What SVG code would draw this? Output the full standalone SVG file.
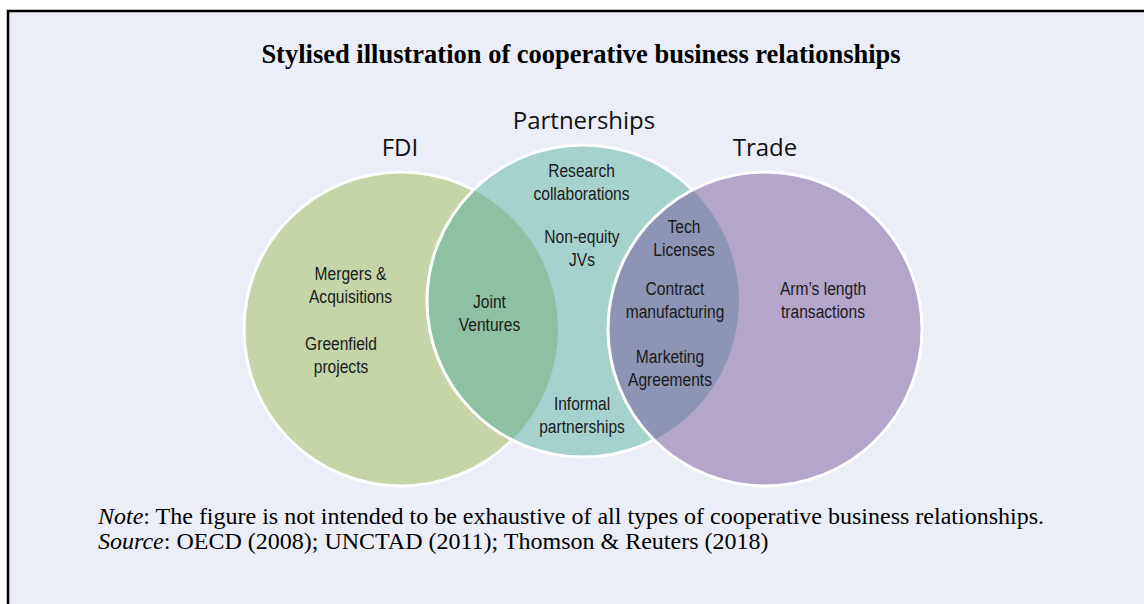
<svg xmlns="http://www.w3.org/2000/svg" width="1144" height="604" viewBox="0 0 1144 604">
<style>
.title{font-family:"Liberation Serif","Times New Roman",serif;font-weight:bold;font-size:26.5px;fill:#000}
.note{font-family:"Liberation Serif","Times New Roman",serif;font-size:24px;fill:#000}
.head{font-family:"Open Sans","Noto Sans",sans-serif;font-size:24px;fill:#111;text-anchor:middle}
.lbl{font-family:"Liberation Sans",Arial,sans-serif;font-size:19px;fill:#1a1a1a;text-anchor:middle}
.edge{fill:none;stroke:#fff;stroke-width:3}
</style>
<defs>
<clipPath id="clipP"><circle cx="583" cy="301" r="156"/></clipPath>
<clipPath id="clipT"><circle cx="765" cy="329" r="157"/></clipPath>
</defs>
<rect x="0" y="0" width="1144" height="604" fill="#fff"/>
<rect x="8" y="11" width="1136" height="593" fill="#ECEEF7"/>
<path d="M8,604 V11 H1144" fill="none" stroke="#000" stroke-width="2.5"/>
<text class="title" x="581" y="63" text-anchor="middle">Stylised illustration of cooperative business relationships</text>
<g id="node-fdi">
<circle cx="401" cy="329" r="157" fill="#C5D5A8" stroke="#fff" stroke-width="3"/>
<text class="head" x="400" y="156">FDI</text>
</g>
<g id="node-partnerships">
<circle cx="583" cy="301" r="156" fill="#A6D2CE"/>
<circle cx="401" cy="329" r="157" fill="#8EC1A3" clip-path="url(#clipP)"/>
<circle class="edge" cx="583" cy="301" r="156"/>
<text class="head" x="584" y="129">Partnerships</text>
</g>
<g id="node-trade">
<circle cx="765" cy="329" r="157" fill="#B4A5CB"/>
<circle cx="583" cy="301" r="156" fill="#8E94B5" clip-path="url(#clipT)"/>
<circle class="edge" cx="765" cy="329" r="157"/>
<text class="head" x="765" y="156">Trade</text>
</g>
<g id="labels-fdi">
<text class="lbl" transform="translate(350.5,280) scale(0.82,1)">Mergers &amp;</text>
<text class="lbl" transform="translate(350.5,303) scale(0.82,1)">Acquisitions</text>
<text class="lbl" transform="translate(341,350) scale(0.82,1)">Greenfield</text>
<text class="lbl" transform="translate(341,373) scale(0.82,1)">projects</text>
</g>
<g id="node-joint-ventures">
<text class="lbl" transform="translate(489.5,308) scale(0.82,1)">Joint</text>
<text class="lbl" transform="translate(489.5,331) scale(0.82,1)">Ventures</text>
</g>
<g id="labels-partnerships">
<text class="lbl" transform="translate(581.5,177) scale(0.82,1)">Research</text>
<text class="lbl" transform="translate(581.5,200) scale(0.82,1)">collaborations</text>
<text class="lbl" transform="translate(582,243) scale(0.82,1)">Non-equity</text>
<text class="lbl" transform="translate(582,266) scale(0.82,1)">JVs</text>
<text class="lbl" transform="translate(582,410) scale(0.82,1)">Informal</text>
<text class="lbl" transform="translate(582,433) scale(0.82,1)">partnerships</text>
</g>
<g id="node-partnership-trade">
<text class="lbl" transform="translate(684,233) scale(0.82,1)">Tech</text>
<text class="lbl" transform="translate(684,256) scale(0.82,1)">Licenses</text>
<text class="lbl" transform="translate(675,295) scale(0.82,1)">Contract</text>
<text class="lbl" transform="translate(675,318) scale(0.82,1)">manufacturing</text>
<text class="lbl" transform="translate(670,363) scale(0.82,1)">Marketing</text>
<text class="lbl" transform="translate(670,386) scale(0.82,1)">Agreements</text>
</g>
<g id="labels-trade">
<text class="lbl" transform="translate(823,295) scale(0.82,1)">Arm’s length</text>
<text class="lbl" transform="translate(823,318) scale(0.82,1)">transactions</text>
</g>
<g id="connectors"></g>
<g id="footnote">
<text class="note" x="98" y="524"><tspan font-style="italic">Note</tspan>: The figure is not intended to be exhaustive of all types of cooperative business relationships.</text>
<text class="note" x="98" y="549"><tspan font-style="italic">Source</tspan>: OECD (2008); UNCTAD (2011); Thomson &amp; Reuters (2018)</text>
</g>
</svg>
